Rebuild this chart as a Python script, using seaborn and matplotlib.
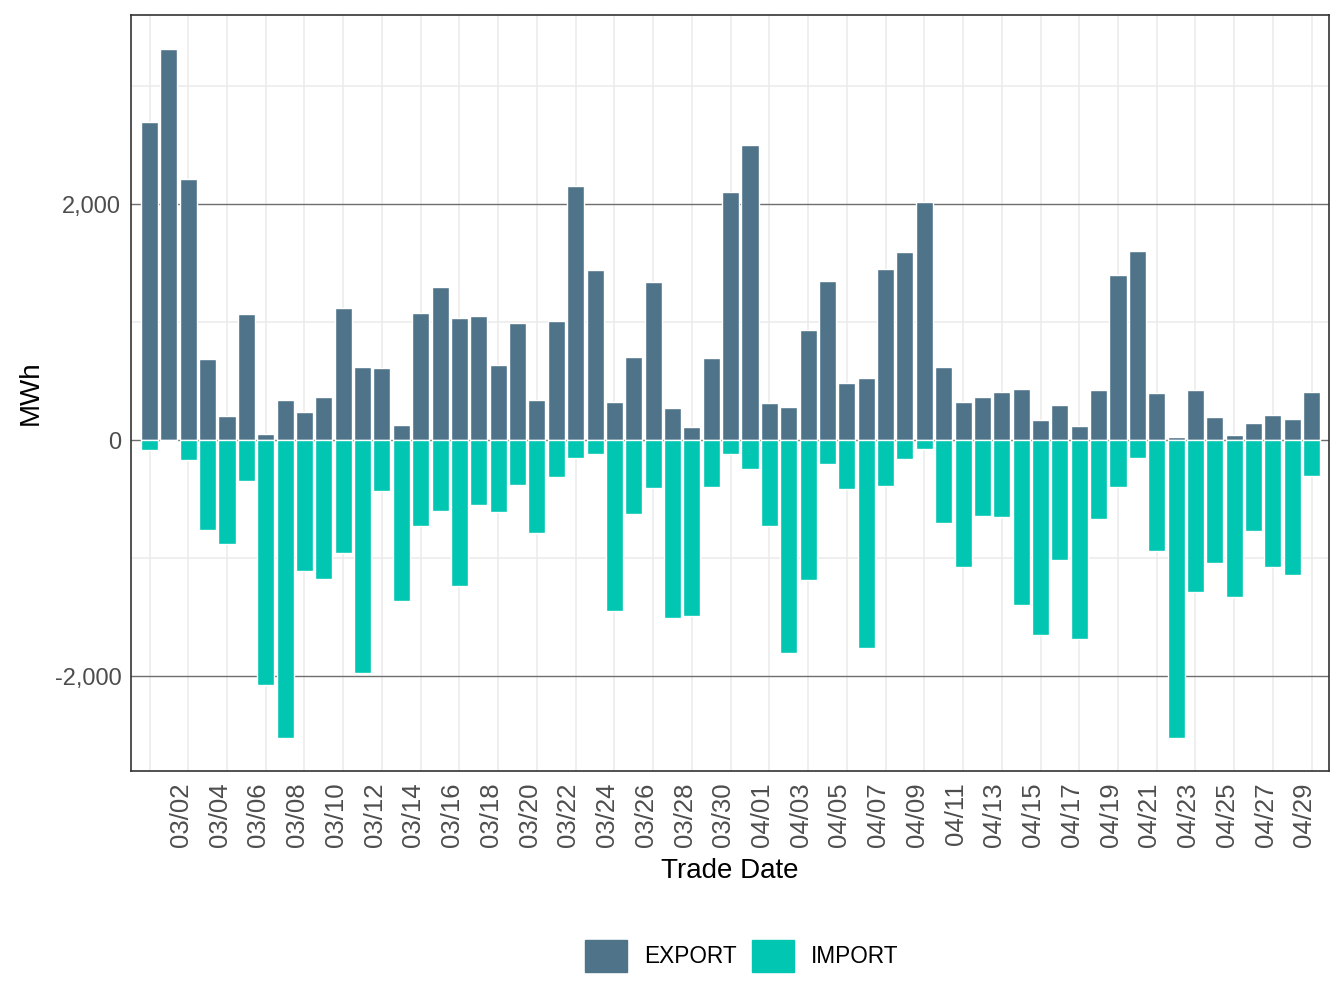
import numpy as np
import pandas as pd
import matplotlib
matplotlib.use("Agg")
import matplotlib.pyplot as plt
import seaborn as sns

# dates 03/01 -> 04/30
dates = pd.date_range("2024-03-01", "2024-04-30", freq="D").strftime("%m/%d").tolist()

export_mwh = [2695, 3314, 2212, 686, 203, 1068, 55, 339, 237, 364,
              1119, 619, 610, 127, 1076, 1297, 1034, 1051, 636, 992,
              339, 1008, 2153, 1441, 322, 703, 1339, 271, 110, 695,
              2102, 2500, 314, 280, 932, 1347, 483, 525, 1449, 1593,
              2017, 619, 322, 364, 407, 432, 169, 297, 119, 424,
              1398, 1602, 398, 30, 424, 195, 42, 144, 212, 178,
              407]

import_mwh = [-82, -8, -167, -760, -879, -345, -2073, -2523, -1107, -1175,
              -955, -1972, -429, -1362, -726, -599, -1235, -548, -607, -379,
              -786, -311, -150, -116, -1446, -624, -404, -1506, -1489, -395,
              -116, -243, -726, -1802, -1184, -201, -413, -1760, -387, -158,
              -74, -701, -1073, -641, -650, -1395, -1650, -1014, -1684, -667,
              -395, -150, -938, -2523, -1285, -1040, -1328, -769, -1073, -1142,
              -303]

flow_types = ["EXPORT", "IMPORT"]
flow_colors = ["#4F7489", "#00C6B2"]
y_ticks = [-2000, 0, 2000]
y_minor = [-1000, 1000, 3000]

df = pd.DataFrame({
    "Trade Date": dates * 2,
    "Type": ["EXPORT"] * len(dates) + ["IMPORT"] * len(dates),
    "MWh": export_mwh + import_mwh,
})

sns.set_style("white")
plt.rcParams["font.family"] = ["Liberation Sans", "DejaVu Sans"]

fig = plt.figure(figsize=(13.44, 10.08), dpi=100)
ax = fig.add_axes([0.0975, 0.2351, 0.8913, 0.75])

# background grid (light), the +/-2000 and 0 lines darker
for i in range(0, len(dates), 2):
    ax.axvline(i, color="#EBEBEB", lw=1.1, zorder=0)
for v in y_minor:
    ax.axhline(v, color="#EBEBEB", lw=1.1, zorder=0)
for v in y_ticks:
    ax.axhline(v, color="#6E6E6E", lw=1.0, zorder=0.5)

sns.barplot(data=df, x="Trade Date", y="MWh", hue="Type", hue_order=flow_types,
            palette=flow_colors, dodge=False, width=0.88, order=dates,
            saturation=1, legend=False, ax=ax, zorder=2)

ax.set_xlim(-0.955, len(dates) - 0.11)
ax.set_ylim(-2805, 3602)

ax.set_xticks(range(1, len(dates), 2))
ax.set_xticklabels(dates[1::2], rotation=90, ha="left")
ax.set_yticks(y_ticks)
ax.set_yticklabels([f"{v:,}" for v in y_ticks])

ax.tick_params(axis="both", length=4, width=1.4, color="#333333",
               labelcolor="#4D4D4D", pad=3)
ax.tick_params(axis="x", labelsize=18.5, pad=4)
ax.tick_params(axis="y", labelsize=17)
for s in ax.spines.values():
    s.set_color("#333333")
    s.set_linewidth(1.2)

ax.set_xlabel("Trade Date", fontsize=20, color="black", labelpad=8)
ax.set_ylabel("MWh", fontsize=20, color="black", labelpad=8)

handles = [plt.Rectangle((0, 0), 1, 1, color=c) for c in flow_colors]
fig.legend(handles, flow_types, loc="center", bbox_to_anchor=(0.552, 0.0516),
           ncol=2, frameon=False, fontsize=16.3, handlelength=1.85,
           handleheight=1.85, handletextpad=0.74, columnspacing=0.7,
           borderpad=0, labelcolor="black")

plt.savefig("out.png", dpi=100)
